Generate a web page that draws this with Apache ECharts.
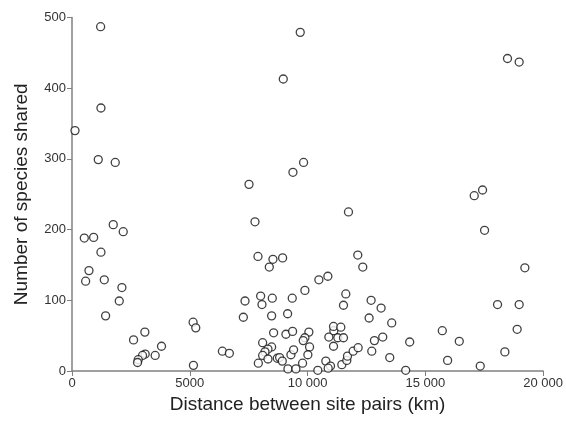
<!DOCTYPE html>
<html>
<head>
<meta charset="utf-8">
<script src="https://cdn.jsdelivr.net/npm/echarts@6/dist/echarts.min.js"></script>
<style>
  html, body { margin: 0; padding: 0; background: #fff; }
  #main { width: 566px; height: 423px; }
</style>
</head>
<body>
<div id="main"></div>
<script>
// distance between site pairs (km) and number of shared species, one entry per pair
var distanceKm = [
  127, 1215, 1229, 1115, 1836, 522, 918, 1751, 2175, 1229,
  720, 579, 1370, 2119, 2006, 1427, 2613, 3093, 3800, 3531,
  3107, 2994, 2811, 2782, 5141, 5254, 5155, 6384, 6681,
  7345, 7274, 7514, 7768, 7895, 8008, 8065, 7910, 8531, 8376,
  8941, 8969, 9689, 9831, 9379, 11737, 12132, 12344, 10480, 10862,
  9887, 11624, 11525, 12698, 13122, 12613, 13573, 8503, 9350, 8475,
  9153, 8559, 9082, 9364, 10056, 9887, 9816, 10085, 8093, 8475,
  8319, 8192, 8093, 8319, 8715, 8814, 8927, 9294, 9407, 10013,
  9167, 9505, 9788, 10436, 10775, 10975, 10876, 11102, 10904, 11116,
  11102, 11412, 11285, 11525, 11455, 11666, 11695, 11935, 12147, 12726,
  12839, 13192, 13489,
  14336, 14166, 15720, 16441, 15945, 17076, 17429, 17514, 19225, 18065,
  18983, 18898, 18376, 17330, 18488, 18983
];
var speciesShared = [
  340, 487, 372, 299, 295, 188, 189, 207, 197, 168,
  142, 127, 129, 118, 99, 78, 44, 55, 35, 22,
  24, 22, 16, 12, 69, 61, 8, 28, 25,
  99, 76, 264, 211, 162, 106, 94, 11, 158, 147,
  160, 413, 479, 295, 281, 225, 164, 147, 129, 134,
  114, 109, 93, 100, 89, 75, 68, 103, 103, 78,
  81, 54, 52, 56, 55, 47, 43, 34, 40, 34,
  31, 27, 22, 17, 18, 19, 14, 23, 30, 23,
  3, 3, 11, 1, 14, 7, 4, 35, 48, 57,
  63, 62, 47, 47, 9, 15, 21, 28, 33, 28,
  43, 48, 19,
  41, 1, 57, 42, 15, 248, 256, 199, 146, 94,
  94, 59, 27, 7, 442, 437
];

var points = distanceKm.map(function (d, i) { return [d, speciesShared[i]]; });

function kmLabel(v) {
  if (v >= 10000) {
    var s = String(v);
    return s.slice(0, s.length - 3) + ' ' + s.slice(-3);
  }
  return String(v);
}

var myChart = echarts.init(document.getElementById('main'));
var option = {
  animation: false,
  backgroundColor: '#fff',
  grid: { left: 72, right: 22, top: 17.5, bottom: 52 },
  xAxis: {
    type: 'value',
    min: 0, max: 20000, interval: 5000,
    name: 'Distance between site pairs (km)',
    nameLocation: 'middle',
    nameGap: 19,
    nameTextStyle: { fontFamily: 'Liberation Sans', fontSize: 19, color: '#222', verticalAlign: 'top' },
    splitLine: { show: false },
    axisLine: { show: true, lineStyle: { color: '#808080', width: 1.5 } },
    axisTick: { show: true, length: 5, lineStyle: { color: '#808080' } },
    axisLabel: {
      fontFamily: 'Liberation Sans', fontSize: 13, color: '#333', margin: 6,
      formatter: kmLabel
    }
  },
  yAxis: {
    type: 'value',
    min: 0, max: 500, interval: 100,
    name: 'Number of species shared',
    nameLocation: 'middle',
    nameGap: 41,
    nameTextStyle: { fontFamily: 'Liberation Sans', fontSize: 19, color: '#222' },
    splitLine: { show: false },
    axisLine: { show: true, lineStyle: { color: '#808080', width: 1.5 } },
    axisTick: { show: true, length: 5, lineStyle: { color: '#808080' } },
    axisLabel: { fontFamily: 'Liberation Sans', fontSize: 13, color: '#333', margin: 6 }
  },
  series: [
    {
      name: 'Site pairs',
      type: 'scatter',
      symbol: 'circle',
      symbolSize: 8,
      itemStyle: { color: '#fff', borderColor: '#111', borderWidth: 1.3 },
      data: points
    }
  ]
};
myChart.setOption(option);
</script>
</body>
</html>
